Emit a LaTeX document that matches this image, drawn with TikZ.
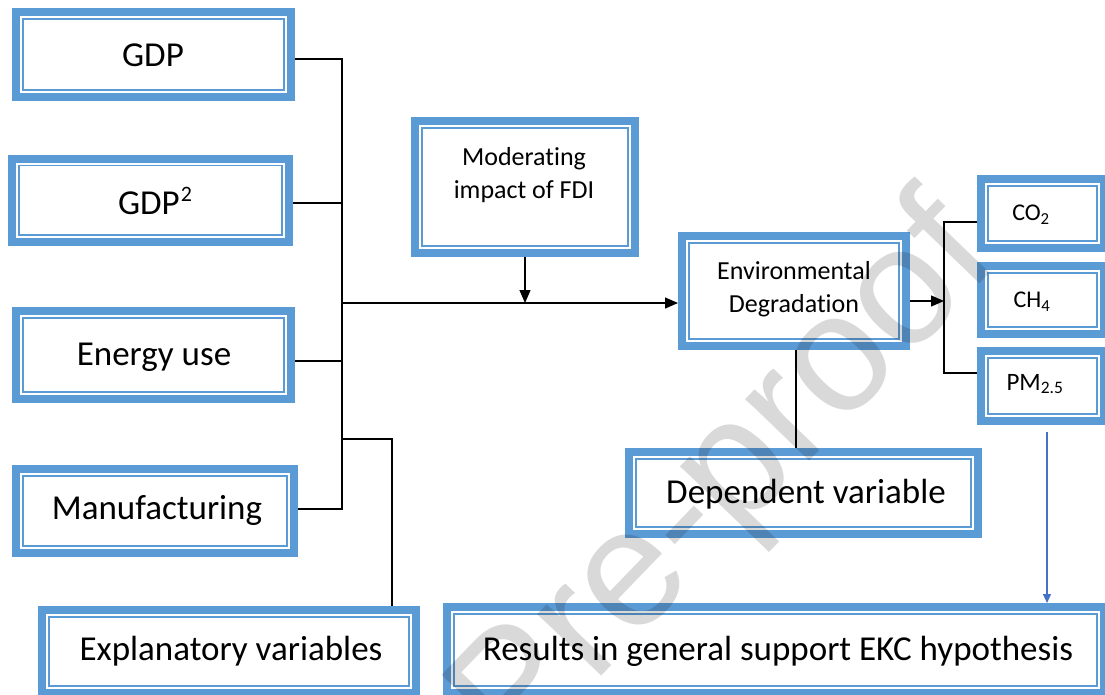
\documentclass[tikz,border=0pt]{standalone}
\usepackage{fontspec}
\setmainfont{Carlito}[Ligatures=NoCommon]
\newfontfamily\wmfont{Liberation Sans}
\usetikzlibrary{arrows.meta}
\definecolor{boxblue}{RGB}{91,155,213}
\definecolor{arrblue}{RGB}{68,114,196}
\begin{document}
\begin{tikzpicture}[x=1pt,y=-1pt,
  ebox/.style 2 args={minimum width=#1, minimum height=#2, inner sep=0pt, outer sep=0pt, fill=white,
    path picture={
      \fill[boxblue] (path picture bounding box.south west) rectangle (path picture bounding box.north east);
      \fill[white] ([shift={(8pt,8pt)}]path picture bounding box.south west) rectangle ([shift={(-8pt,-8pt)}]path picture bounding box.north east);
      \draw[boxblue, line width=1.6pt] ([shift={(10.8pt,10.8pt)}]path picture bounding box.south west) rectangle ([shift={(-10.8pt,-10.8pt)}]path picture bounding box.north east);
    }},
  big/.style={font=\fontsize{35}{40}\selectfont, inner sep=0pt},
  mid/.style={font=\fontsize{26}{33}\selectfont, align=center, inner sep=0pt},
  small/.style={font=\fontsize{24}{28}\selectfont, inner sep=0pt},
  conn/.style={draw=black, line width=1.3pt},
  arr/.style={conn, -{Triangle[length=13pt,width=11pt]}},
  barr/.style={draw=arrblue, line width=1.3pt, -{Triangle[length=9pt,width=8pt]}},
  wm/.style={font=\wmfont\fontsize{168}{168}\selectfont, text=black, text opacity=0.15, rotate=46, inner sep=0pt}
]
\useasboundingbox (0,0) rectangle (1105,694);
% boxes
\node[ebox={283pt}{93pt}] (gdp) at (153.5,54.5) {};
\node[ebox={285pt}{91pt}] (gdp2) at (150.5,200) {};
\node[ebox={283pt}{96pt}] (energy) at (153.5,355) {};
\node[ebox={286pt}{92pt}] (manuf) at (155,511) {};
\node[ebox={382pt}{91pt}] (expl) at (229,651.5) {};
\node[ebox={228pt}{140pt}] (moder) at (525,187) {};
\node[ebox={232pt}{118pt}] (env) at (794,291) {};
\node[ebox={131pt}{77pt}] (co2) at (1042.5,213.5) {};
\node[ebox={131pt}{76pt}] (ch4) at (1042.5,300) {};
\node[ebox={131pt}{78pt}] (pm) at (1042.5,386) {};
\node[ebox={357pt}{90pt}] (dep) at (803.5,493) {};
\node[ebox={665pt}{94pt}] (res) at (775.5,650) {};
% texts
\node[big] (tgdp) at (155,201) {GDP\kern1pt\raisebox{0.36em}{\fontsize{22}{22}\selectfont 2}};
\node[big] (tgdp1) at (153,55) {GDP};
\node[big] (tenergy) at (154,357) {Energy use};
\node[big] (tmanuf) at (157,510) {Manufacturing};
\node[big] (texpl) at (231,651) {Explanatory variables};
\node[mid] (tmoder) at (524,175) {Moderating\\impact of FDI};
\node[mid] (tenv) at (794,289) {Environmental\\Degradation};
\node[small] (tco2) at (1031,215) {CO\textsubscript{2}};
\node[small] (tch4) at (1032,302) {CH\textsubscript{4}};
\node[small, font=\fontsize{25}{28}\selectfont] (tpm) at (1035,384) {PM\textsubscript{2.5}};
\node[big] (tdep) at (806,494) {Dependent variable};
\node[big] (tres) at (778,651) {Results in general support EKC hypothesis};
% left bus
\coordinate (b1) at (342,59);
\coordinate (b2) at (342,509);
\coordinate (jg2) at (342,203);
\coordinate (jen) at (342,361);
\coordinate (jm) at (342,303);
\coordinate (je) at (342,439);
\coordinate (je2) at (392,439);
\draw[conn] (gdp.east |- b1) -- (b1) -- (b2) -- (manuf.east |- b2);
\draw[conn] (jg2 -| gdp2.east) -- (jg2);
\draw[conn] (jen -| energy.east) -- (jen);
\draw[conn] (je) -- (je2) -- (je2 |- expl.north);
\draw[arr] (jm) -- (jm -| env.west);
\draw[arr] (moder.south) -- (moder.south |- jm);
% right bus
\coordinate (rb) at (944,301);
\coordinate (rt) at (944,222);
\coordinate (rbt) at (944,373);
\draw[arr] (rb -| env.east) -- (rb);
\draw[conn] (rt -| co2.west) -- (rt) -- (rbt) -- (rbt -| pm.west);
\draw[conn] ([xshift=2pt]env.south) -- ([xshift=2pt]env.south |- dep.north);
\coordinate (bt) at (1047,432);
\draw[barr] (bt) -- (bt |- res.north);
% watermark
\node[wm] (wmk) at (728,483) {Pre-proof};
\end{tikzpicture}
\end{document}
